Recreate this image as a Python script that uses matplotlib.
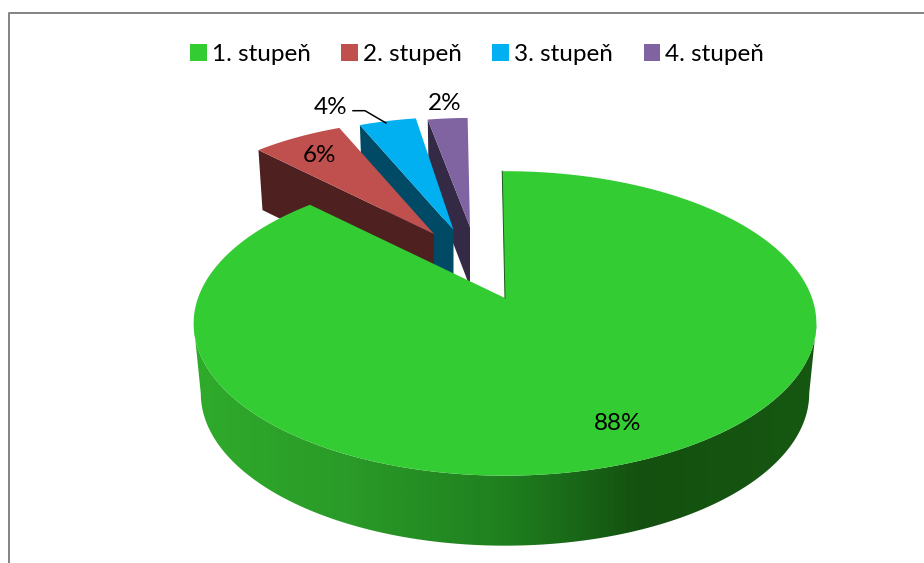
import matplotlib
matplotlib.use('Agg')
import matplotlib.pyplot as plt
from matplotlib.colors import LinearSegmentedColormap
from matplotlib.patches import Patch, Polygon
import numpy as np

# hodnoty
categories = ['1. stupeň', '2. stupeň', '3. stupeň', '4. stupeň']
values = [87.6, 6.1, 3.9, 2.4]
labels = ['88%', '6%', '4%', '2%']
top_colors = ['#33CC33', '#C0504D', '#00B0F0', '#8064A2']
wall_colors = ['#1E7A1E', '#4F2020', '#004A66', '#352A45']

# rozlozeni 3D kolace v pixelech
RX, RY, PERSP = 307, 148, 0.167
SHRINK_X = 0.977
START_ANGLE = -0.6
apex = [(505, 298), (434, 234), (453.5, 230), (470, 227)]
scale = [1.0, 0.90, 0.89, 0.86]
depth = [70, 60, 60, 60]
# rozsireni vysece doleva (perspektiva), ve stupnich
widen = [0, 0, 0, 1.5]

green_wall = LinearSegmentedColormap.from_list('green_wall', [
    (0.0, '#2FAB2B'), (0.25, '#2A9A28'), (0.5, '#1F7F1F'),
    (0.65, '#175F15'), (0.72, '#14500F'), (1.0, '#165812')])

plt.rcParams['font.family'] = ['Lato', 'DejaVu Sans']
fig = plt.figure(figsize=(9.24, 5.63), dpi=100)
ax = fig.add_axes([0, 0, 1, 1])

px = 72 / fig.dpi


def rim(i, angles, lower=False):
    # body na okraji vysece, uhel se meri od vrcholu po smeru hodinovych rucicek
    t = np.radians(angles)
    u, v = np.sin(t), np.cos(t)
    w = 1 + PERSP * v
    dx = scale[i] * RX * u / w
    dy = -scale[i] * RY * v / w
    x0, y0 = apex[i]
    if lower:
        return x0 + SHRINK_X * dx, y0 + depth[i] + dy
    return x0 + dx, y0 + dy


ax.plot([8.5, 8.5, 924], [563, 13, 13], color='#868686', lw=2 * px, solid_capstyle='butt')

ends = START_ANGLE + np.cumsum(values) * 3.6
starts = np.concatenate([[START_ANGLE], ends[:-1]]) - np.array(widen)

# male vysece odzadu dopredu, potom zelena
for i in [3, 2, 1]:
    x1, y1 = rim(i, starts[i])
    x2, y2 = rim(i, starts[i], lower=True)
    x0, y0 = apex[i]
    ax.fill([x1, x0, x0, x2], [y1, y0, y0 + depth[i], y2], color=wall_colors[i], lw=0, zorder=2 + (3 - i))
    arc = np.linspace(starts[i], ends[i], 30)
    xs, ys = rim(i, arc)
    ax.fill(np.r_[x0, xs], np.r_[y0, ys], color=top_colors[i], lw=0, zorder=2 + (3 - i))

# plast zelene vysece s prechodem, mezi nejsirsimi body elipsy
widest = np.degrees(np.arccos(-PERSP))
side = np.linspace(widest, 360 - widest, 300)
xt, yt = rim(0, side)
xb, yb = rim(0, side, lower=True)
outline = Polygon(np.c_[np.r_[xt, xb[::-1]], np.r_[yt, yb[::-1]]], closed=True, transform=ax.transData)
gradient = ax.imshow(np.linspace(0, 1, 512)[None, :], cmap=green_wall, aspect='auto',
                     extent=(xt.min(), xt.max(), 563, 0), zorder=6)
gradient.set_clip_path(outline)

arc = np.linspace(starts[0], ends[0], 300)
xs, ys = rim(0, arc)
ax.fill(np.r_[apex[0][0], xs], np.r_[apex[0][1], ys], color=top_colors[0], lw=0, zorder=7)
xe, ye = rim(0, starts[0])
ax.plot([xe, apex[0][0]], [ye, apex[0][1]], color='#1B5E1B', lw=1 * px, zorder=7)

# popisky
label_pos = [(618, 423), (319, 156), (331, 107), (445, 104)]
for text, (lx, ly) in zip(labels, label_pos):
    ax.text(lx, ly, text, fontsize=17.5, ha='center', va='center', color='black', zorder=9)
ax.plot([353, 365, 386], [110.7, 110.7, 123], color='black', lw=1.5 * px, zorder=9)

handles = [Patch(facecolor=c, edgecolor='none') for c in top_colors]
fig.legend(handles, categories, loc='center', bbox_to_anchor=(477 / 924, 1 - 54.5 / 563), ncol=4,
           frameon=False, fontsize=17.5, handlelength=0.68, handleheight=0.68, handletextpad=0.2,
           columnspacing=1.27, borderpad=0)

ax.set_xlim(0, 924)
ax.set_ylim(563, 0)
ax.axis('off')

fig.savefig('out.png', dpi=100)
